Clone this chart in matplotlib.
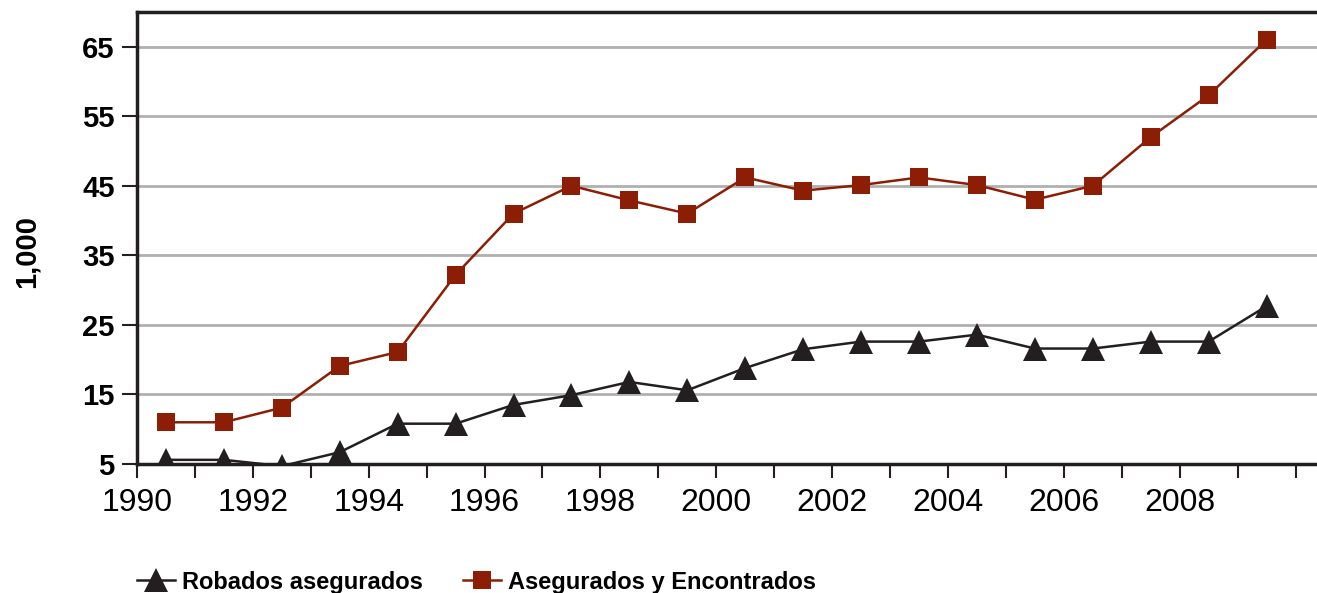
import matplotlib
matplotlib.use("Agg")
import matplotlib.pyplot as plt
from matplotlib.ticker import MultipleLocator, FuncFormatter

plt.rcParams['font.family'] = ['Liberation Sans', 'DejaVu Sans']

# data (thousands), values at mid-year
years = [1990.5, 1991.5, 1992.5, 1993.5, 1994.5, 1995.5, 1996.5, 1997.5, 1998.5, 1999.5,
         2000.5, 2001.5, 2002.5, 2003.5, 2004.5, 2005.5, 2006.5, 2007.5, 2008.5, 2009.5]
robados = [5.6, 5.6, 4.7, 6.7, 10.8, 10.8, 13.5, 14.9, 16.8, 15.6,
           18.8, 21.5, 22.6, 22.6, 23.6, 21.6, 21.6, 22.6, 22.6, 27.7]
encontrados = [11.0, 11.0, 13.1, 19.1, 21.1, 32.2, 41.0, 45.0, 42.9, 41.0,
               46.2, 44.3, 45.1, 46.2, 45.1, 43.0, 45.0, 52.0, 58.0, 66.0]
yticks = [5, 15, 25, 35, 45, 55, 65]

black = '#231f20'
red = '#8b1e05'

fig = plt.figure(figsize=(13.17, 5.93), dpi=100)
ax = fig.add_axes([0.104, 0.2175, 0.896, 0.7625])

ax.plot(years, robados, color=black, lw=1.8, marker='^', ms=17,
        markeredgewidth=0, label='Robados asegurados', zorder=3)
ax.plot(years, encontrados, color=red, lw=1.8, marker='s', ms=13,
        markeredgewidth=0, label='Asegurados y Encontrados', zorder=3)

ax.set_xlim(1990, 2010.37)
ax.set_ylim(5, 70)
ax.set_yticks(yticks)
ax.xaxis.set_major_locator(MultipleLocator(2))
ax.xaxis.set_minor_locator(MultipleLocator(1))
ax.xaxis.set_major_formatter(FuncFormatter(lambda v, p: '' if v > 2009 else f'{int(v)}'))
ax.grid(axis='y', color='#b0b0b0', lw=2)
ax.set_axisbelow(True)

for s in ['left', 'top', 'bottom']:
    ax.spines[s].set_linewidth(2.5)
    ax.spines[s].set_color(black)
ax.spines['right'].set_visible(False)

ax.tick_params(axis='y', length=11, width=1.5, pad=5, labelsize=21, color=black)
ax.tick_params(axis='x', which='both', length=10, width=1.5, pad=7, labelsize=23, color=black)
for lbl in ax.get_yticklabels():
    lbl.set_fontweight('bold')

ax.set_ylabel('1,000', fontsize=21, fontweight='bold')
ax.yaxis.set_label_coords(-0.082, 0.47)

fig.legend(loc='lower left', bbox_to_anchor=(0.088, -0.037), ncol=2, frameon=False,
           prop={'size': 17, 'weight': 'bold'}, handlelength=1.6, handletextpad=0.3,
           columnspacing=1.7)

fig.savefig('out.png', dpi=100)
